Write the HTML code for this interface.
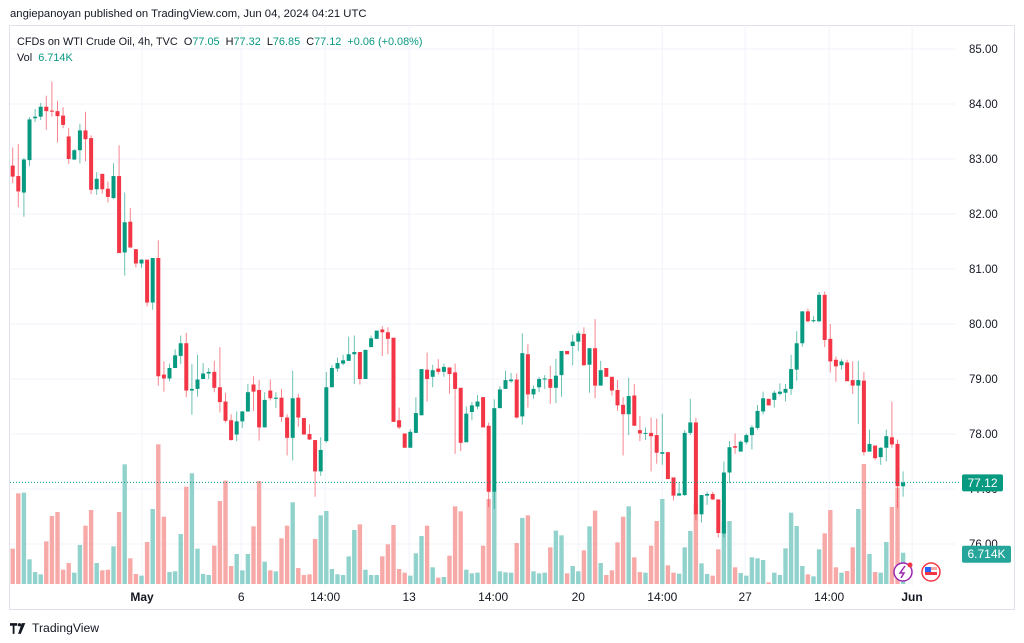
<!DOCTYPE html>
<html><head><meta charset="utf-8"><style>
html,body{margin:0;padding:0;background:#fff;width:1024px;height:643px;overflow:hidden;font-family:"Liberation Sans",sans-serif;}
#hdr{position:absolute;left:10px;top:8px;font-size:11.3px;color:#131722;}
#frame{position:absolute;left:9px;top:25px;width:1004px;height:583px;border:1px solid #e0e3eb;}
#legend{position:absolute;left:17px;top:34px;font-size:10.9px;color:#131722;line-height:16px;}
#legend .v{color:#089981;}
#logo{position:absolute;left:10px;top:621px;font-size:12.2px;color:#131722;display:flex;align-items:center;}
svg{position:absolute;left:0;top:0;}
</style></head><body>
<div id="hdr">angiepanoyan published on TradingView.com, Jun 04, 2024 04:21 UTC</div>
<div id="frame"></div>
<svg id="chart" width="1024" height="643"></svg>
<div id="legend">
<div>CFDs on WTI Crude Oil, 4h, TVC&nbsp;&nbsp;O<span class="v">77.05</span>&nbsp;&nbsp;H<span class="v">77.32</span>&nbsp;&nbsp;L<span class="v">76.85</span>&nbsp;&nbsp;C<span class="v">77.12</span>&nbsp;&nbsp;<span class="v">+0.06 (+0.08%)</span></div>
<div>Vol&nbsp;&nbsp;<span class="v">6.714K</span></div>
</div>
<div id="logo"><svg style="position:static" width="18" height="11" viewBox="0 0 20 12"><path d="M0 0h8v3H5v9H3V3H0z M13 0h4l-5 12h-3z" fill="#131722"/><circle cx="10.5" cy="1.8" r="1.8" fill="#131722"/></svg><span style="margin-left:4px">TradingView</span></div>
<script>
const opens=[82.88,82.69,82.39,82.98,83.74,83.77,83.95,83.88,83.87,83.79,83.41,82.99,83.16,83.52,83.38,82.45,82.73,82.46,82.29,82.69,81.30,81.86,81.36,81.10,81.17,80.39,81.20,79.08,79.01,79.2,79.42,79.65,78.79,78.82,79.0,79.1,79.13,78.85,78.59,78.25,77.99,78.23,78.41,
78.90,78.80,78.12,78.79,78.64,78.66,78.30,77.93,78.66,78.29,78.0,77.89,77.32,77.87,78.85,79.19,79.28,79.33,79.45,79.49,79.0,79.58,79.73,79.90,79.85,79.75,78.25,78.01,77.75,78.02,78.34,79.17,79.04,79.19,79.13,79.21,79.12,78.84,77.85,78.40,78.50,78.67,78.15,
76.95,78.47,78.82,78.96,78.99,78.32,79.45,78.72,78.85,78.99,79.0,78.84,79.07,79.51,79.60,79.68,79.82,79.26,79.56,78.88,79.20,79.04,78.80,78.53,78.36,78.70,78.07,78.01,78.02,77.98,77.64,77.67,77.21,76.88,76.89,78.02,78.21,76.54,76.88,76.91,76.81,76.19,
77.30,77.78,77.68,77.85,77.98,78.11,78.41,78.64,78.62,78.73,78.75,78.82,79.17,79.65,80.23,80.05,80.05,80.53,79.73,79.35,79.25,79.30,78.98,78.88,78.97,77.68,77.79,77.58,77.75,77.94,77.82,77.05];
const highs=[83.21,83.27,83.02,83.76,83.91,84.02,84.15,84.41,84.06,83.94,83.56,83.18,83.64,83.86,83.43,82.76,82.73,82.59,82.92,83.25,82.39,82.11,81.36,81.18,81.17,81.20,81.52,79.32,79.28,79.54,79.79,79.84,79.27,79.44,79.29,79.2,79.33,79.58,78.75,78.36,78.41,78.42,78.91,
79.05,78.98,78.76,78.99,78.76,78.82,78.36,79.15,78.73,78.29,78.17,77.89,77.94,79.13,79.25,79.39,79.44,79.77,79.79,79.49,79.53,79.79,79.88,79.96,79.94,79.75,78.48,78.01,78.09,78.67,79.18,79.48,79.26,79.36,79.28,79.21,79.28,78.84,78.50,78.58,78.71,78.67,78.21,
78.63,78.87,79.15,79.11,79.10,79.83,79.63,78.88,79.04,79.07,79.24,79.37,79.51,79.51,79.80,79.87,79.94,79.56,80.09,79.33,79.20,79.04,78.98,78.67,79.02,78.91,78.33,78.12,78.30,78.28,78.37,77.67,77.21,77.12,78.07,78.64,78.29,76.89,76.95,76.95,76.81,77.50,
77.87,78.01,77.88,78.01,78.16,78.53,78.77,78.64,78.79,78.92,78.91,79.44,79.87,80.23,80.28,80.14,80.58,80.59,80.0,79.41,79.36,79.35,79.32,79.33,79.13,78.08,77.79,77.76,78.08,78.59,77.90,77.32];
const lows=[82.56,82.12,81.95,82.87,83.67,83.71,83.53,83.77,83.30,83.56,82.91,82.98,82.92,82.96,82.36,82.35,82.37,82.21,82.27,81.29,80.88,81.39,81.03,81.02,80.32,80.26,78.88,78.77,78.96,79.2,79.27,78.67,78.35,78.68,79.0,79.0,78.76,78.39,78.21,77.88,77.87,78.11,78.4,
78.42,77.88,78.12,78.61,78.47,78.22,77.61,77.52,78.13,77.99,77.89,76.86,77.24,77.84,78.85,79.13,79.25,79.33,78.91,78.90,79.0,79.58,79.73,79.42,79.45,78.22,78.09,77.75,77.75,78.02,78.34,78.59,78.85,79.08,79.04,78.73,77.64,77.69,77.85,78.25,78.45,78.12,76.67,
76.64,78.47,78.82,78.93,78.28,78.17,78.48,78.64,78.76,78.82,78.55,78.56,78.68,79.45,79.25,79.51,79.24,78.75,78.65,78.88,79.04,78.70,78.42,77.61,77.98,78.15,77.87,77.89,77.32,77.46,77.44,77.18,76.79,76.88,76.87,77.98,76.43,76.39,76.71,76.80,76.12,76.12,
77.11,77.64,77.68,77.81,77.72,78.08,78.36,78.52,78.48,78.70,78.59,78.71,78.97,79.59,80.03,80.03,80.03,79.58,79.12,78.95,79.17,78.96,78.73,78.18,77.61,77.68,77.53,77.44,77.50,77.75,76.65,76.86];
const closes=[82.68,82.41,82.99,83.72,83.77,83.95,83.87,83.86,83.78,83.62,83.0,83.16,83.52,83.36,82.44,82.64,82.45,82.31,82.69,81.29,81.85,81.39,81.10,81.17,80.39,81.20,79.05,79.01,79.2,79.43,79.65,78.79,78.82,78.99,79.1,79.13,78.84,78.58,78.24,77.89,78.23,78.41,78.76,
78.77,78.12,78.62,78.65,78.66,78.31,77.93,78.65,78.30,77.99,77.9,77.32,77.71,78.85,79.20,79.29,79.34,79.45,79.49,79.0,79.53,79.74,79.88,79.85,79.73,78.22,78.12,77.75,78.04,78.38,79.18,79.0,79.16,79.13,79.22,79.09,78.82,77.84,78.37,78.52,78.59,78.12,76.95,
78.47,78.81,78.98,78.99,78.30,79.47,78.72,78.82,79.0,79.01,78.84,79.06,79.51,79.45,79.68,79.83,79.25,79.56,78.88,79.16,79.04,78.79,78.52,78.36,78.69,78.15,78.01,78.02,77.96,77.66,77.67,77.18,76.88,76.92,78.02,78.21,76.54,76.89,76.91,76.81,76.20,77.30,
77.76,77.75,77.86,77.98,78.12,78.42,78.65,78.52,78.75,78.77,78.82,79.18,79.65,80.23,80.05,80.07,80.53,79.71,79.32,79.23,79.32,78.96,78.88,78.98,77.67,77.82,77.56,77.75,77.96,77.81,77.05,77.12];
const volumes=[7.58,19.45,19.59,5.29,2.57,2.07,9.15,14.59,15.44,3.07,4.50,2.43,8.37,12.51,15.87,4.50,2.93,3.07,8.08,15.44,25.67,5.51,2.15,1.79,9.01,16.09,29.96,14.44,2.57,2.72,10.73,20.88,23.74,7.58,2.15,1.93,8.22,17.80,22.17,3.86,6.44,2.93,6.44,12.37,22.09,4.79,2.93,2.72,9.80,12.51,17.52,3.43,1.93,2.07,9.65,14.73,15.66,3.22,2.07,1.93,5.93,11.58,12.80,3.07,1.93,1.93,5.93,8.51,12.66,3.22,2.43,1.79,6.58,10.30,12.51,3.58,1.36,1.50,6.08,16.66,15.59,3.07,2.29,2.43,8.22,18.23,19.81,2.72,2.50,2.43,8.79,14.16,14.73,2.72,2.29,2.43,7.87,11.44,10.44,2.29,3.86,2.72,7.22,12.37,15.73,4.50,1.93,2.93,8.94,14.44,16.66,5.72,2.57,2.43,8.22,13.51,18.23,4.00,2.43,2.22,7.87,11.37,16.95,4.43,2.15,1.79,7.44,13.37,13.51,3.58,2.36,1.79,5.72,5.51,5.15,0.36,2.43,1.93,7.65,15.30,12.44,3.86,2.07,1.64,7.44,10.87,15.87,3.58,2.43,2.79,7.87,16.09,25.74,6.44,2.57,2.43,9.01,16.52,20.66,6.714];
const priceTicks=[85,84,83,82,81,80,79,78,77,76];
const timeLabels=["May","6","14:00","13","14:00","20","14:00","27","14:00","Jun"];
const timeLabelIdx=[23.1,40.8,55.8,70.8,85.8,101,116,130.8,145.8,160.6];

const NS="http://www.w3.org/2000/svg";
const svg=document.getElementById('chart');
const xOf=i=>12.7+i*5.6;
const yOf=p=>49+(85-p)*55;
const vOf=v=>584-v/0.2145;
function el(tag,attrs,parent){const e=document.createElementNS(NS,tag);for(const k in attrs)e.setAttribute(k,attrs[k]);(parent||svg).appendChild(e);return e;}

const grid=el('g',{});


priceTicks.forEach(p=>{const l=el('line',{x1:10,x2:955,y1:yOf(p),y2:yOf(p),stroke:'#f0f3fa','stroke-width':1},grid);

});
timeLabelIdx.forEach(i=>{const l=el('line',{x1:xOf(i),x2:xOf(i),y1:26,y2:586,stroke:'#f0f3fa','stroke-width':1},grid);

});

const vg=el('g',{});


volumes.forEach((v,i)=>{const up=closes[i]>=opens[i];const y=vOf(v);
const r=el('rect',{x:xOf(i)-2.2,y:y,width:4.4,height:584-y,fill:up?'#92d2cc':'#f7a9a7'},vg);

});

const cg=el('g',{});


opens.forEach((o,i)=>{const c=closes[i];const up=c>=o;const col=up?'#089981':'#f23645';const x=xOf(i);
const g=el('g',{},cg);


el('line',{x1:x,x2:x,y1:yOf(highs[i]),y2:yOf(lows[i]),stroke:col,'stroke-width':1,'stroke-opacity':0.6},g);
const t=yOf(Math.max(o,c)),b=yOf(Math.min(o,c));
el('rect',{x:x-2,y:t,width:4,height:Math.max(1,b-t),fill:col},g);});

const last=closes[closes.length-1];
const pl=el('line',{x1:10,x2:960,y1:yOf(last),y2:yOf(last),stroke:'#089981','stroke-width':1,'stroke-dasharray':'1,2'});



const ax=el('g',{'font-family':'Liberation Sans, sans-serif','font-size':'11.5','fill':'#131722'});


priceTicks.forEach(p=>{const t=el('text',{x:969,y:yOf(p)+4},ax);t.textContent=p.toFixed(2);

});

const tx=el('g',{'font-family':'Liberation Sans, sans-serif','font-size':'12','fill':'#131722','text-anchor':'middle'});


timeLabels.forEach((s,k)=>{const t=el('text',{x:xOf(timeLabelIdx[k]),y:601,'font-weight':(s==='May'||s==='Jun')?'bold':'normal'},tx);t.textContent=s;

});

const lb=el('g',{});


el('rect',{x:962,y:yOf(last)-8,width:41,height:17,rx:2,fill:'#089981'},lb);
const lt=el('text',{x:982.5,y:yOf(last)+4.5,'text-anchor':'middle','font-family':'Liberation Sans, sans-serif','font-size':'12','fill':'#fff'},lb);lt.textContent=last.toFixed(2);
const vb=el('g',{});


const vl=volumes[volumes.length-1];
el('rect',{x:962,y:vOf(vl)-7,width:49,height:17,rx:2,fill:'#26a69a'},vb);
const vt=el('text',{x:986.5,y:vOf(vl)+5.5,'text-anchor':'middle','font-family':'Liberation Sans, sans-serif','font-size':'12','fill':'#fff'},vb);vt.textContent=vl.toFixed(3)+'K';

const ic1=el('g',{});


el('circle',{cx:903,cy:572,r:9,fill:'#fff',stroke:'#9c27b0','stroke-width':1.5},ic1);
el('path',{d:'M905 566 L900 573 H904 L901 578',fill:'none',stroke:'#9c27b0','stroke-width':1.5},ic1);
el('circle',{cx:910,cy:565,r:2.5,fill:'#f23645'},ic1);
const ic2=el('g',{});


el('circle',{cx:931,cy:572,r:9,fill:'#fff',stroke:'#f23645','stroke-width':1.5},ic2);
el('rect',{x:925,y:567,width:12,height:3,fill:'#f7a9a7'},ic2);
el('rect',{x:925,y:572,width:12,height:3,fill:'#f23645'},ic2);
el('rect',{x:925,y:567,width:6,height:5,fill:'#2962ff'},ic2);
</script>
</body></html>
